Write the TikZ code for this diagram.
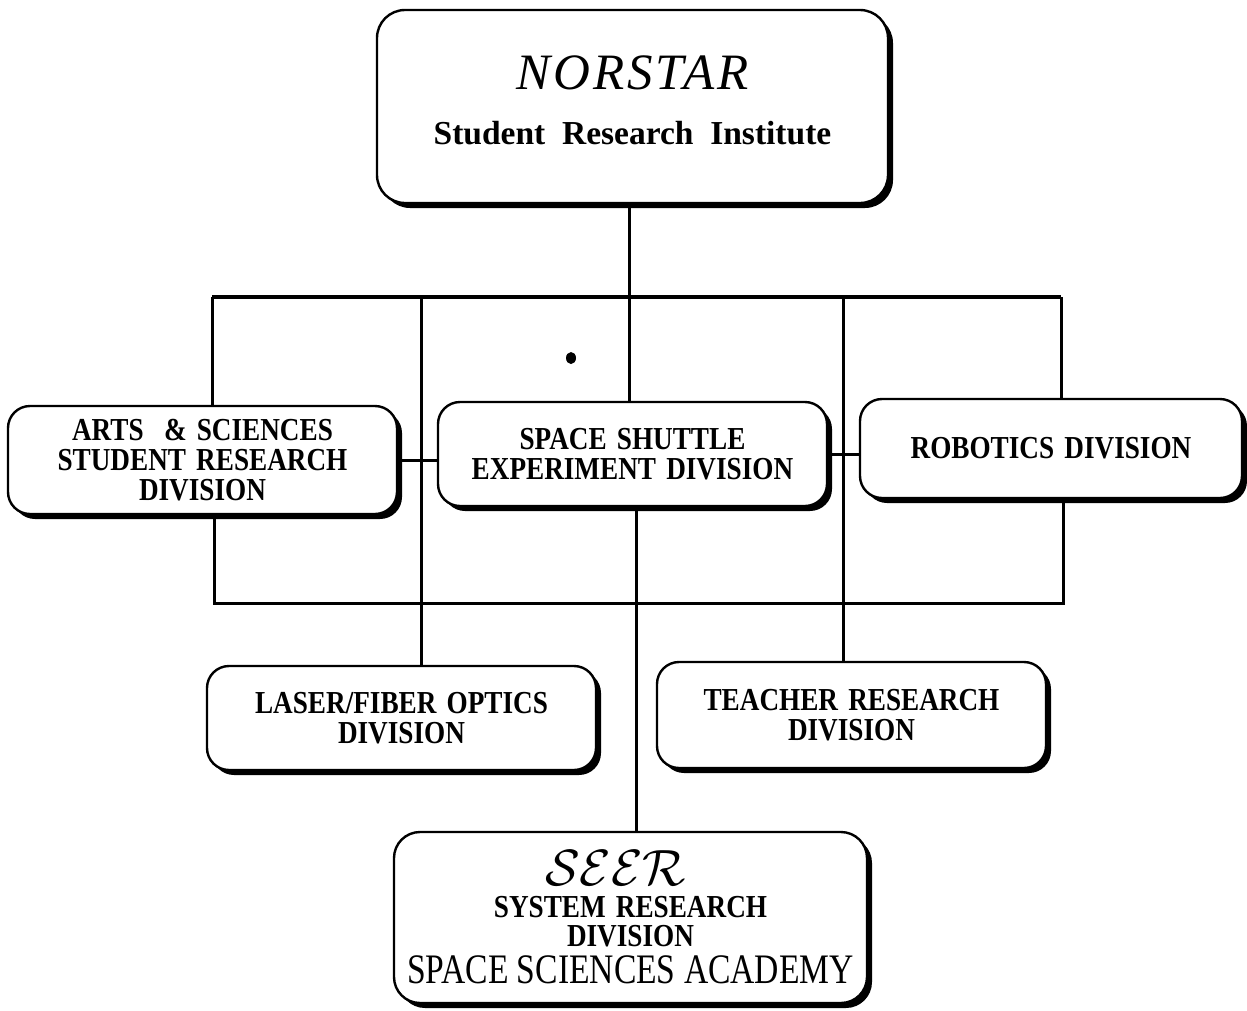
\documentclass[tikz,border=0pt]{standalone}
\usepackage{fontspec}
\usepackage{graphicx}
\setmainfont{Liberation Serif}
\newfontfamily\divfont[FakeStretch=0.85,WordSpace=1.5]{Liberation Serif}
\newfontfamily\ssafont[FakeStretch=0.8]{Liberation Serif}
\newfontfamily\instfont[WordSpace=2]{Liberation Serif}
\newfontfamily\norfont[LetterSpace=6]{Liberation Serif}
\usetikzlibrary{shadows}
\tikzset{
  orgbox/.style={draw, line width=2.4pt, fill=white, rounded corners=22pt, inner sep=0pt,
    align=center,
    drop shadow={shadow xshift=5pt, shadow yshift=-5pt, fill=black, opacity=1},
    font=\divfont\bfseries\fontsize{32}{30}\selectfont},
  conn/.style={line width=3pt},
  bar/.style={line width=3.5pt},
}
\begin{document}
\begin{tikzpicture}[x=1pt,y=-1pt]
\useasboundingbox (0,0) rectangle (1247,1010);

% boxes
\node[orgbox, minimum width=511pt, minimum height=193pt, rounded corners=28pt, text depth=13pt,
      font=\instfont\fontsize{33.5}{40}\selectfont\bfseries] (norstar) at (632.5,106.5)
  {{\norfont\fontsize{51}{60}\selectfont\mdseries\itshape NORSTAR}\\[14.5pt]Student Research Institute};
\node[orgbox, minimum width=389pt, minimum height=108pt] (arts) at (202.5,460)
  {ARTS \ \& SCIENCES\\STUDENT RESEARCH\\DIVISION};
\node[orgbox, minimum width=389pt, minimum height=104pt] (shuttle) at (632.5,454)
  {SPACE SHUTTLE\\EXPERIMENT DIVISION};
\node[orgbox, minimum width=382pt, minimum height=99pt] (robotics) at (1051,448.5)
  {ROBOTICS DIVISION};
\node[orgbox, minimum width=389pt, minimum height=104pt] (laser) at (401.5,718)
  {LASER/FIBER OPTICS\\DIVISION};
\node[orgbox, minimum width=389pt, minimum height=106pt] (teacher) at (851.5,715)
  {TEACHER RESEARCH\\DIVISION};
\node[orgbox, minimum width=473pt, minimum height=171pt, rounded corners=26pt,
      font=\divfont\bfseries\fontsize{32}{29}\selectfont] (seer) at (630.5,917.5)
  {{\mdseries\scalebox{2.05}{\fontsize{24}{24}\selectfont$\mathcal{SEER}$}\hspace*{30pt}}\\[3pt]SYSTEM RESEARCH\\DIVISION\\[8.5pt]{\ssafont\mdseries\fontsize{42}{29}\selectfont SPACE SCIENCES ACADEMY}};

% junction coordinates
\coordinate (tl) at (212,297);
\coordinate (t2) at (421,297);
\coordinate (t3) at (629,297);
\coordinate (t4) at (843,297);
\coordinate (tr) at (1061,297);
\coordinate (bl) at (214,603);
\coordinate (br) at (1063,603);
\coordinate (sv) at (636,603);

% connectors
\draw[conn] (norstar.south -| t3) -- (t3);
\draw[bar] (tl) -- (tr);
\draw[conn] (tl) -- (tl |- arts.north);
\draw[conn] (t2) -- (t2 |- laser.north);
\draw[conn] (t3) -- (t3 |- shuttle.north);
\draw[conn] (t4) -- (t4 |- teacher.north);
\draw[conn] (tr) -- (tr |- robotics.north);
\draw[conn] (bl |- arts.south) -- (bl) -- (br) -- (br |- robotics.south);
\draw[conn] (sv |- shuttle.south) -- (sv |- seer.north);
\draw[conn] (arts.east) -- (arts.east -| shuttle.west);
\draw[conn] (shuttle.east) -- (shuttle.east -| robotics.west);

% print blemish
\fill (571,358) ellipse (5pt and 6pt);
\end{tikzpicture}
\end{document}
